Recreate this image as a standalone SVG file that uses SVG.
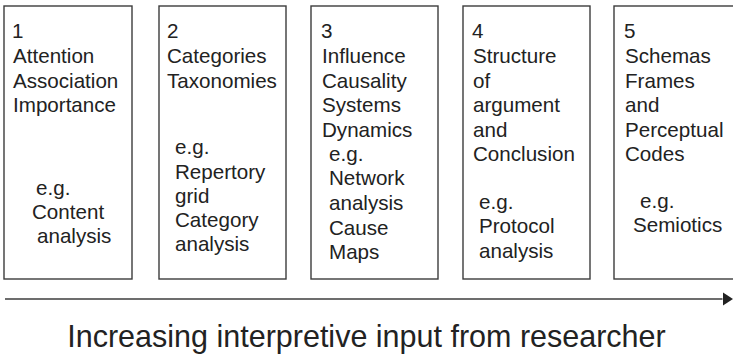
<svg xmlns="http://www.w3.org/2000/svg" width="733" height="355" viewBox="0 0 733 355">
  <style>
    .box { fill: #ffffff; stroke: #3c3c3c; stroke-width: 1.4; }
    .t { font-family: "Liberation Sans", Arial, sans-serif; font-size: 20.6px; fill: #222222; }
    .caption { font-family: "Liberation Sans", Arial, sans-serif; font-size: 30.5px; fill: #222222; }
    .axis { stroke: #3c3c3c; stroke-width: 1.6; fill: none; }
  </style>
  <defs>
    <marker id="arrowhead" markerUnits="userSpaceOnUse" markerWidth="11" markerHeight="14" refX="0" refY="6.7" orient="auto">
      <polygon points="0,0 10.5,6.7 0,13.4" fill="#222222"/>
    </marker>
  </defs>
  <rect width="733" height="355" fill="#ffffff"/>

  <!-- Level 1 -->
  <g id="stage-1">
    <rect class="box" x="4" y="6" width="128" height="273"/>
    <text class="t" x="12" y="38">1</text>
    <text class="t" x="13" y="63">Attention</text>
    <text class="t" x="13" y="87.5">Association</text>
    <text class="t" x="13" y="112">Importance</text>
    <text class="t" x="36" y="195">e.g.</text>
    <text class="t" x="32" y="219">Content</text>
    <text class="t" x="37" y="243">analysis</text>
  </g>

  <!-- Level 2 -->
  <g id="stage-2">
    <rect class="box" x="159" y="6" width="127" height="273"/>
    <text class="t" x="167" y="38">2</text>
    <text class="t" x="167" y="63">Categories</text>
    <text class="t" x="167" y="87.5">Taxonomies</text>
    <text class="t" x="175" y="154">e.g.</text>
    <text class="t" x="175" y="178.5">Repertory</text>
    <text class="t" x="175" y="203">grid</text>
    <text class="t" x="175" y="227">Category</text>
    <text class="t" x="175" y="251">analysis</text>
  </g>

  <!-- Level 3 -->
  <g id="stage-3">
    <rect class="box" x="311" y="6" width="127" height="273"/>
    <text class="t" x="321" y="38">3</text>
    <text class="t" x="322" y="63">Influence</text>
    <text class="t" x="322" y="87.5">Causality</text>
    <text class="t" x="322" y="112">Systems</text>
    <text class="t" x="322" y="136.5">Dynamics</text>
    <text class="t" x="329" y="160.5">e.g.</text>
    <text class="t" x="329" y="185">Network</text>
    <text class="t" x="329" y="210">analysis</text>
    <text class="t" x="329" y="234.5">Cause</text>
    <text class="t" x="329" y="259">Maps</text>
  </g>

  <!-- Level 4 -->
  <g id="stage-4">
    <rect class="box" x="463" y="6" width="127" height="273"/>
    <text class="t" x="472" y="38">4</text>
    <text class="t" x="473" y="63">Structure</text>
    <text class="t" x="473" y="87.5">of</text>
    <text class="t" x="473" y="112">argument</text>
    <text class="t" x="473" y="136.5">and</text>
    <text class="t" x="473" y="161">Conclusion</text>
    <text class="t" x="479" y="208.5">e.g.</text>
    <text class="t" x="479" y="233">Protocol</text>
    <text class="t" x="479" y="257.5">analysis</text>
  </g>

  <!-- Level 5 -->
  <g id="stage-5">
    <rect class="box" x="614" y="6" width="130" height="273"/>
    <text class="t" x="624" y="38">5</text>
    <text class="t" x="625" y="63">Schemas</text>
    <text class="t" x="625" y="87.5">Frames</text>
    <text class="t" x="625" y="112">and</text>
    <text class="t" x="625" y="136.5">Perceptual</text>
    <text class="t" x="625" y="161">Codes</text>
    <text class="t" x="640" y="208">e.g.</text>
    <text class="t" x="633" y="232">Semiotics</text>
  </g>

  <!-- Progression axis -->
  <g id="connectors">
    <line class="axis" x1="5" y1="299" x2="722.5" y2="299" marker-end="url(#arrowhead)"/>
  </g>

  <g id="axis-label">
    <text class="caption" x="366.5" y="347" text-anchor="middle">Increasing interpretive input from researcher</text>
  </g>
</svg>
